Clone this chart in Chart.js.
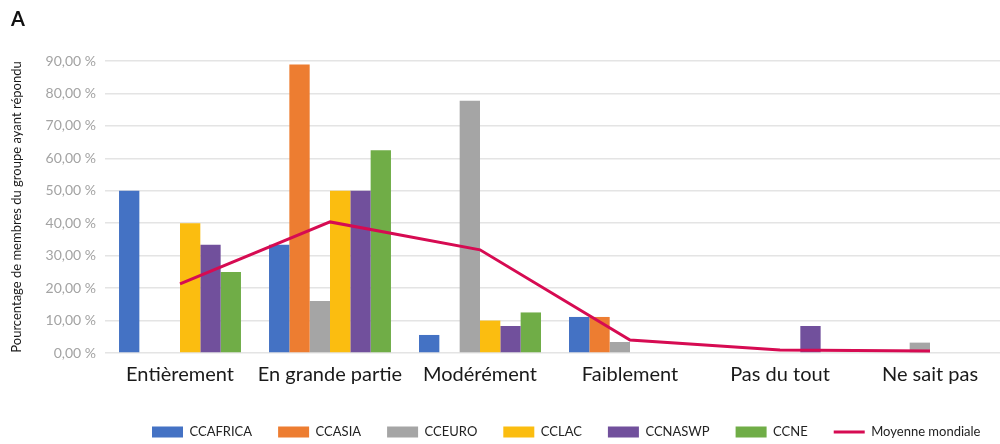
<!DOCTYPE html>
<html lang="fr">
<head>
<meta charset="utf-8">
<script src="https://cdn.jsdelivr.net/npm/chart.js@4.4.1/dist/chart.umd.min.js"></script>
<style>
  html, body { margin: 0; padding: 0; background: #ffffff; overflow: hidden; }
  #wrap { position: relative; width: 1000px; height: 444px; overflow: hidden; }
  #box { position: absolute; left: 0; top: 0; width: 1005px; height: 444px; }
</style>
</head>
<body>
<div id="wrap"><div id="box"><canvas id="chart"></canvas></div></div>
<script>
// Réponses par catégorie, en pourcentage des membres de chaque groupe
const categories = ['Entièrement', 'En grande partie', 'Modérément', 'Faiblement', 'Pas du tout', 'Ne sait pas'];
const ccafrica = [50.00, 33.33, 5.56, 11.11, 0, 0];
const ccasia   = [0, 88.89, 0, 11.11, 0, 0];
const cceuro   = [0, 16.00, 77.78, 3.40, 0, 3.20];
const cclac    = [40.00, 50.00, 10.00, 0, 0, 0];
const ccnaswp  = [33.33, 50.00, 8.33, 0, 8.33, 0];
const ccne     = [25.00, 62.50, 12.50, 0, 0, 0];
const moyenneMondiale = [21.3, 40.4, 31.8, 4.0, 0.9, 0.6];
const yTickLabels = ['0,00 %', '10,00 %', '20,00 %', '30,00 %', '40,00 %', '50,00 %', '60,00 %', '70,00 %', '80,00 %', '90,00 %'];

const FONT = "Lato, 'Open Sans', sans-serif";
Chart.defaults.font.family = FONT;

function barSet(label, data, color) {
  return { type: 'bar', label, data, backgroundColor: color, borderWidth: 0,
           pointStyle: 'rect', order: 1 };
}

// Panel letter in the top-left corner
const panelLetter = {
  id: 'panelLetter',
  afterDraw(chart) {
    const ctx = chart.ctx;
    ctx.save();
    ctx.font = "bold 20px " + FONT;
    ctx.fillStyle = '#111111';
    ctx.textBaseline = 'alphabetic';
    ctx.textAlign = 'left';
    ctx.fillText('A', 11, 26);
    ctx.restore();
  }
};

// Place the legend row where it sits under the plot
const legendPlacement = {
  id: 'legendPlacement',
  afterLayout(chart) {
    const lg = chart.legend;
    if (!lg || !lg.lineWidths) return;
    const pad = lg.options.labels.padding;
    const startX = (lg.left + pad + lg.right - lg.lineWidths[0]) / 2;
    const dx = 152 - startX;
    lg.left += dx; lg.right += dx;
    const fs = lg.options.labels.font.size;
    const dy = (432 - pad - fs / 2) - lg.top;
    lg.top += dy; lg.bottom += dy;
  }
};

new Chart(document.getElementById('chart'), {
  data: {
    labels: categories,
    datasets: [
      barSet('CCAFRICA', ccafrica, '#4472C4'),
      barSet('CCASIA', ccasia, '#ED7D31'),
      barSet('CCEURO', cceuro, '#A5A5A5'),
      barSet('CCLAC', cclac, '#FBBD10'),
      barSet('CCNASWP', ccnaswp, '#71509C'),
      barSet('CCNE', ccne, '#70AD47'),
      { type: 'line', label: 'Moyenne mondiale', data: moyenneMondiale,
        borderColor: '#D60B52', backgroundColor: '#D60B52', borderWidth: 3,
        pointRadius: 0, pointHoverRadius: 0, pointStyle: 'line', tension: 0, order: 0 }
    ]
  },
  options: {
    responsive: true,
    maintainAspectRatio: false,
    animation: false,
    devicePixelRatio: 1,
    layout: { padding: { top: 61, left: 0, right: 0, bottom: 0 } },
    datasets: { bar: { barPercentage: 1.0, categoryPercentage: 0.813 } },
    plugins: {
      tooltip: { enabled: false },
      legend: {
        position: 'bottom',
        labels: {
          usePointStyle: true,
          pointStyleWidth: 31,
          boxWidth: 31,
          boxHeight: 11,
          padding: 26,
          color: '#222222',
          font: { size: 13 },
          sort: (a, b) => a.datasetIndex - b.datasetIndex
        }
      }
    },
    scales: {
      x: {
        grid: { display: false, drawTicks: false },
        border: { display: false },
        ticks: { color: '#1a1a1a', font: { size: 20 }, padding: 10, maxRotation: 0, autoSkip: false },
        afterFit(scale) { scale.height = 42; }
      },
      y: {
        min: 0, max: 90,
        ticks: {
          stepSize: 10,
          color: '#a3a3a3',
          font: { size: 14 },
          padding: 9,
          callback: (v) => yTickLabels[Math.round(v / 10)]
        },
        grid: { color: '#e4e4e4', lineWidth: 1.5, drawTicks: false },
        border: { display: false },
        title: {
          display: true,
          text: 'Pourcentage de membres du groupe ayant répondu',
          color: '#1a1a1a',
          font: { size: 13 },
          padding: { top: 9, bottom: 0 }
        },
        afterFit(scale) { scale.width = 105; }
      }
    }
  },
  plugins: [panelLetter, legendPlacement]
});
</script>
</body>
</html>
